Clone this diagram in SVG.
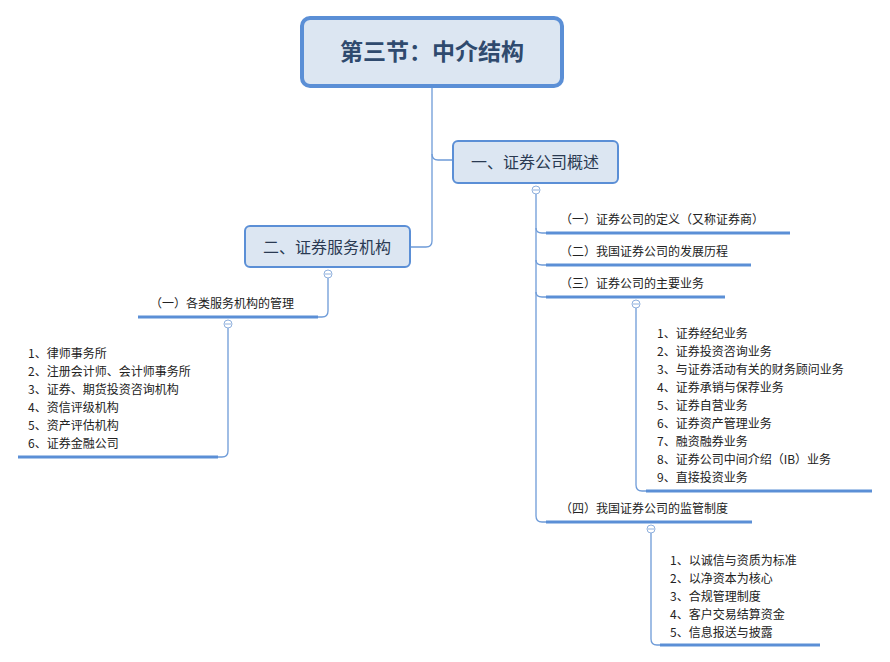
<svg xmlns="http://www.w3.org/2000/svg" width="890" height="662" viewBox="0 0 890 662">
<style>
text{font-family:"Noto Sans CJK SC","Liberation Sans",sans-serif;fill:#222}
.t{font-size:12px}
.n{font-size:16px;fill:#2a3a52}
.c{fill:none;stroke:#6e9bd8;stroke-width:1.3}
.u{stroke:#5b8fd6;stroke-width:3}
.k{fill:#fff;stroke:#8fb0dd;stroke-width:1}
</style>
<rect width="890" height="662" fill="#fff"/>
<g id="connectors">
<path class="c" d="M432 86V154q0 6 6 6H453"/>
<path class="c" d="M432 154V241q0 6 -6 6H410"/>
<path class="c" d="M536 194V516q0 6 6 6H546"/>
<path class="c" d="M536 228q0 5 6 5H546M536 260q0 5 6 5H546M536 292q0 5 6 5H546"/>
<path class="c" d="M636 308V485q0 6 6 6H646"/>
<path class="c" d="M651 533V639q0 6 6 6H660"/>
<path class="c" d="M328 278V311q0 6 -6 6H318"/>
<path class="c" d="M228 328V451q0 6 -6 6H218"/>
<circle class="k" cx="536" cy="190" r="4"/><circle class="k" cx="636" cy="304" r="4"/>
<circle class="k" cx="651" cy="529" r="4"/><circle class="k" cx="328" cy="274" r="4"/>
<circle class="k" cx="228" cy="324" r="4"/>
<path d="M533 190h6M633 304h6M648 529h6M325 274h6M225 324h6" stroke="#8fb0dd"/>
</g>
<g id="root"><rect x="302" y="18" width="260" height="68" rx="8" fill="#dce6f2" stroke="#5b8fd6" stroke-width="4"/>
<text x="432" y="60" text-anchor="middle" style="font-size:23px;font-weight:bold;fill:#2f4a6e">第三节：中介结构</text></g>
<g id="n1"><rect x="453" y="141" width="165" height="42" rx="5" fill="#dce6f2" stroke="#5b8fd6" stroke-width="2"/>
<text class="n" x="535" y="168" text-anchor="middle">一、证券公司概述</text></g>
<g id="n2"><rect x="245" y="226" width="165" height="41" rx="5" fill="#dce6f2" stroke="#5b8fd6" stroke-width="2"/>
<text class="n" x="327" y="253" text-anchor="middle">二、证券服务机构</text></g>
<g id="s1"><line class="u" x1="546" y1="233" x2="790" y2="233"/><text class="t" x="560" y="224">（一）证券公司的定义（又称证券商）</text></g>
<g id="s2"><line class="u" x1="546" y1="265" x2="751" y2="265"/><text class="t" x="560" y="256">（二）我国证券公司的发展历程</text></g>
<g id="s3"><line class="u" x1="546" y1="297" x2="725" y2="297"/><text class="t" x="560" y="288">（三）证券公司的主要业务</text></g>
<g id="s4"><line class="u" x1="546" y1="522" x2="752" y2="522"/><text class="t" x="560" y="513">（四）我国证券公司的监管制度</text></g>
<g id="l3"><line class="u" x1="646" y1="491" x2="872" y2="491"/>
<text class="t" x="657" y="338">1、证券经纪业务</text><text class="t" x="657" y="356">2、证券投资咨询业务</text><text class="t" x="657" y="374">3、与证券活动有关的财务顾问业务</text><text class="t" x="657" y="392">4、证券承销与保荐业务</text><text class="t" x="657" y="410">5、证券自营业务</text><text class="t" x="657" y="428">6、证券资产管理业务</text><text class="t" x="657" y="446">7、融资融券业务</text><text class="t" x="657" y="464">8、证券公司中间介绍（IB）业务</text><text class="t" x="657" y="482">9、直接投资业务</text></g>
<g id="l4"><line class="u" x1="660" y1="645" x2="820" y2="645"/>
<text class="t" x="670" y="565">1、以诚信与资质为标准</text><text class="t" x="670" y="583">2、以净资本为核心</text><text class="t" x="670" y="601">3、合规管理制度</text><text class="t" x="670" y="619">4、客户交易结算资金</text><text class="t" x="670" y="637">5、信息报送与披露</text></g>
<g id="s5"><line class="u" x1="138" y1="317" x2="318" y2="317"/><text class="t" x="150" y="308">（一）各类服务机构的管理</text></g>
<g id="l5"><line class="u" x1="18" y1="457" x2="218" y2="457"/>
<text class="t" x="28" y="358">1、律师事务所</text><text class="t" x="28" y="376">2、注册会计师、会计师事务所</text><text class="t" x="28" y="394">3、证券、期货投资咨询机构</text><text class="t" x="28" y="412">4、资信评级机构</text><text class="t" x="28" y="430">5、资产评估机构</text><text class="t" x="28" y="448">6、证券金融公司</text></g>
</svg>
